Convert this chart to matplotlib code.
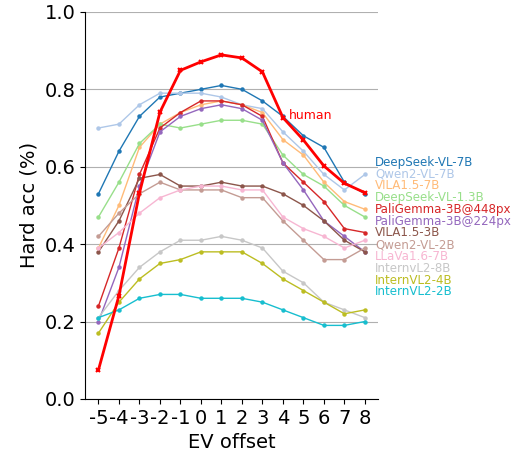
import matplotlib

matplotlib.use("Agg")
import matplotlib.pyplot as plt

ev_offsets = [-5, -4, -3, -2, -1, 0, 1, 2, 3, 4, 5, 6, 7, 8]

human = [0.075, 0.267, 0.532, 0.741, 0.849, 0.871, 0.889, 0.881, 0.845, 0.727, 0.669, 0.602, 0.557, 0.533]

model_names = [
    "DeepSeek-VL-7B",
    "Qwen2-VL-7B",
    "VILA1.5-7B",
    "DeepSeek-VL-1.3B",
    "PaliGemma-3B@448px",
    "PaliGemma-3B@224px",
    "VILA1.5-3B",
    "Qwen2-VL-2B",
    "LLaVa1.6-7B",
    "InternvL2-8B",
    "InternVL2-4B",
    "InternVL2-2B",
]

deepseek_7b = [0.53, 0.64, 0.73, 0.78, 0.79, 0.80, 0.81, 0.80, 0.77, 0.73, 0.68, 0.65, 0.56, 0.53]
qwen2_7b = [0.70, 0.71, 0.76, 0.79, 0.79, 0.79, 0.78, 0.76, 0.75, 0.69, 0.64, 0.58, 0.54, 0.58]
vila_7b = [0.39, 0.50, 0.65, 0.71, 0.74, 0.76, 0.77, 0.76, 0.74, 0.67, 0.63, 0.56, 0.51, 0.49]
deepseek_13b = [0.47, 0.56, 0.66, 0.71, 0.70, 0.71, 0.72, 0.72, 0.71, 0.63, 0.58, 0.55, 0.50, 0.47]
paligemma_448 = [0.24, 0.39, 0.58, 0.70, 0.74, 0.77, 0.77, 0.76, 0.73, 0.61, 0.56, 0.51, 0.44, 0.43]
paligemma_224 = [0.20, 0.34, 0.55, 0.69, 0.73, 0.75, 0.76, 0.75, 0.72, 0.61, 0.54, 0.46, 0.42, 0.38]
vila_3b = [0.38, 0.46, 0.57, 0.58, 0.55, 0.55, 0.56, 0.55, 0.55, 0.53, 0.50, 0.46, 0.41, 0.38]
qwen2_2b = [0.42, 0.48, 0.53, 0.56, 0.54, 0.54, 0.54, 0.52, 0.52, 0.46, 0.41, 0.36, 0.36, 0.39]
llava_7b = [0.39, 0.43, 0.48, 0.52, 0.54, 0.55, 0.55, 0.54, 0.54, 0.47, 0.44, 0.42, 0.39, 0.41]
internvl_8b = [0.21, 0.28, 0.34, 0.38, 0.41, 0.41, 0.42, 0.41, 0.39, 0.33, 0.30, 0.25, 0.23, 0.21]
internvl_4b = [0.17, 0.25, 0.31, 0.35, 0.36, 0.38, 0.38, 0.38, 0.35, 0.31, 0.28, 0.25, 0.22, 0.23]
internvl_2b = [0.21, 0.23, 0.26, 0.27, 0.27, 0.26, 0.26, 0.26, 0.25, 0.23, 0.21, 0.19, 0.19, 0.20]

model_scores = [
    deepseek_7b, qwen2_7b, vila_7b, deepseek_13b, paligemma_448, paligemma_224,
    vila_3b, qwen2_2b, llava_7b, internvl_8b, internvl_4b, internvl_2b,
]

colors = [
    "#1f77b4", "#aec7e8", "#ffbb78", "#98df8a", "#d62728", "#9467bd",
    "#8c564b", "#c49c94", "#f7b6d2", "#c7c7c7", "#bcbd22", "#17becf",
]

fig = plt.figure(figsize=(5.16, 4.58), dpi=100)
ax = fig.add_axes([0.165, 0.129, 0.568, 0.845])

for name, scores, color in zip(model_names, model_scores, colors):
    ax.plot(ev_offsets, scores, color=color, linewidth=1.0, marker="o", markersize=2.2, label=name)

ax.plot(ev_offsets, human, color="red", linewidth=2.0, marker="x", markersize=3.5,
        markeredgewidth=1.5, label="human")

# labels stacked down the right-hand side, coloured like their lines
for i, (name, color) in enumerate(zip(model_names, colors)):
    ax.text(8.5, 0.612 - i * 0.0305, name, color=color, fontsize=8.6,
            ha="left", va="center", clip_on=False)
ax.text(4.3, 0.733, "human", color="red", fontsize=9, ha="left", va="center")

ax.set_ylim(0, 1.0)
ax.set_xticks(ev_offsets)
ax.set_xticklabels([str(v) for v in ev_offsets])
ax.set_yticks([0.0, 0.2, 0.4, 0.6, 0.8, 1.0])
ax.tick_params(labelsize=14)
ax.yaxis.grid(True, color="#b0b0b0", linewidth=0.8)
ax.set_axisbelow(True)
ax.spines["top"].set_visible(False)
ax.spines["right"].set_visible(False)
ax.set_xlabel("EV offset", fontsize=14)
ax.set_ylabel("Hard acc (%)", fontsize=14)

fig.savefig("out.png", dpi=100)
